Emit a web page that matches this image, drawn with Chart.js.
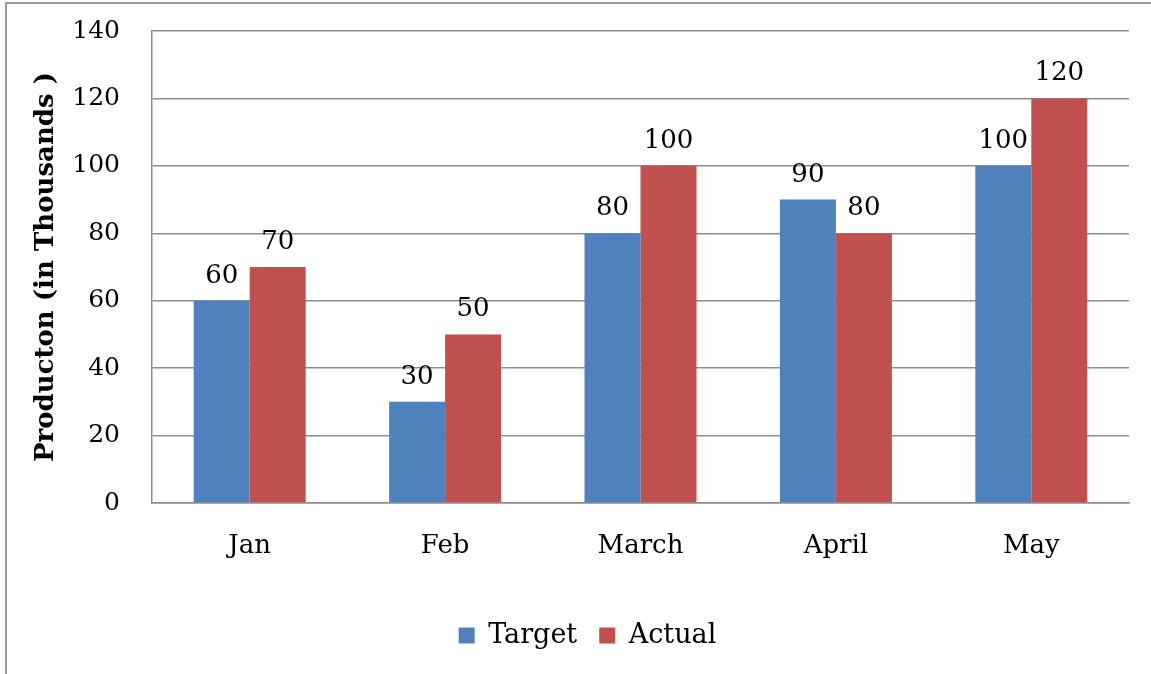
<!DOCTYPE html>
<html>
<head>
<meta charset="utf-8">
<script src="https://cdn.jsdelivr.net/npm/chart.js@4.4.0/dist/chart.umd.min.js"></script>
<style>
  html, body { margin: 0; padding: 0; background: #fff; }
  #wrap { width: 1151px; height: 674px; }
</style>
</head>
<body>
<div id="wrap"><canvas id="chart" width="1151" height="674"></canvas></div>
<script>
// data
var months = ['Jan', 'Feb', 'March', 'April', 'May'];
var target = [60, 30, 80, 90, 100];
var actual = [70, 50, 100, 80, 120];
var yTicks = [0, 20, 40, 60, 80, 100, 120, 140];

var serif = "'DejaVu Serif', serif";

// value labels above the bars
var barLabels = {
  id: 'barLabels',
  afterDatasetsDraw: function(chart) {
    var ctx = chart.ctx;
    ctx.save();
    ctx.font = '26px ' + serif;
    ctx.fillStyle = '#000';
    ctx.textAlign = 'center';
    ctx.textBaseline = 'alphabetic';
    chart.data.datasets.forEach(function(ds, i) {
      chart.getDatasetMeta(i).data.forEach(function(bar, j) {
        ctx.fillText(ds.data[j], bar.x, bar.y - 18);
      });
    });
    ctx.restore();
  }
};

// frame around the picture
var frame = {
  id: 'frame',
  beforeDraw: function(chart) {
    var ctx = chart.ctx;
    ctx.save();
    ctx.strokeStyle = '#9a9a9a';
    ctx.lineWidth = 2;
    ctx.beginPath();
    ctx.moveTo(6, 674);
    ctx.lineTo(6, 3);
    ctx.lineTo(1151, 3);
    ctx.stroke();
    ctx.restore();
  }
};

new Chart(document.getElementById('chart'), {
  type: 'bar',
  data: {
    labels: months,
    datasets: [
      { label: 'Target', data: target, backgroundColor: '#4F81BD' },
      { label: 'Actual', data: actual, backgroundColor: '#C0504D' }
    ]
  },
  options: {
    responsive: false,
    animation: false,
    layout: { padding: { top: 31, right: 22, bottom: 15, left: 46 } },
    datasets: { bar: { categoryPercentage: 0.573, barPercentage: 1 } },
    plugins: {
      legend: {
        position: 'bottom',
        labels: {
          font: { family: serif, size: 27 },
          color: '#000',
          boxWidth: 16,
          boxHeight: 16,
          padding: 22
        }
      },
      tooltip: { enabled: false }
    },
    scales: {
      x: {
        grid: { display: false, drawTicks: false },
        border: { display: true, color: '#8e8e8e', width: 1.5 },
        ticks: { font: { family: serif, size: 26 }, color: '#000', padding: 28 },
        afterFit: function(s) { s.height = 97; s.paddingLeft = 0; s.paddingRight = 0; }
      },
      y: {
        min: 0,
        max: 140,
        afterBuildTicks: function(s) { s.ticks = yTicks.map(function(v) { return { value: v }; }); },
        grid: { color: '#8e8e8e', lineWidth: 1.5, drawTicks: false },
        border: { display: true, color: '#8e8e8e', width: 1.5 },
        ticks: { font: { family: serif, size: 25 }, color: '#000', padding: 32 },
        title: {
          display: true,
          text: 'Producton (in Thousands )',
          font: { family: serif, size: 26, weight: 'bold' },
          color: '#000',
          padding: { top: -15, bottom: 0 }
        },
        afterFit: function(s) { s.width = 106; s.paddingTop = 0; s.paddingBottom = 0; }
      }
    }
  },
  plugins: [barLabels, frame]
});
</script>
</body>
</html>
